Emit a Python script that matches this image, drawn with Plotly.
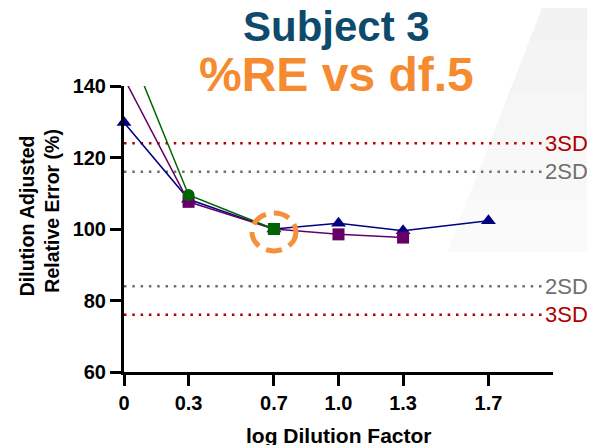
import plotly.graph_objects as go

# ---- data ----
log_df = [0, 0.301, 0.699, 1.0, 1.301, 1.699]
tick_labels = ["0", "0.3", "0.7", "1.0", "1.3", "1.7"]
blue_vals = [129.8, 108.3, 100.0, 101.6, 99.5, 102.3]
purple_vals = [142.2, 107.6, 100.0, 98.5, 97.6]
green_vals = [154.0, 109.5, 100.0]
green_symbols = ["circle", "circle", "square"]
sd_levels = [124, 116, 84, 76]
sd_labels = ["3SD", "2SD", "2SD", "3SD"]
sd_colors = ["#B00000", "#707070", "#707070", "#B00000"]
y_ticks = [60, 80, 100, 120, 140]
ref_x = 0.699
ref_y = 100

FONT = "Liberation Sans, Arial, sans-serif"

fig = go.Figure()

fig.add_trace(go.Scatter(
    x=log_df, y=blue_vals, mode="lines+markers",
    line=dict(color="#000080", width=1.5),
    marker=dict(symbol="triangle-up", size=13, color="#000080"),
    cliponaxis=False, showlegend=False))
fig.add_trace(go.Scatter(
    x=log_df[:len(purple_vals)], y=purple_vals, mode="lines+markers",
    line=dict(color="#660066", width=1.5),
    marker=dict(symbol="square", size=12, color="#660066"),
    cliponaxis=True, showlegend=False))
fig.add_trace(go.Scatter(
    x=log_df[:len(green_vals)], y=green_vals, mode="lines+markers",
    line=dict(color="#006400", width=1.5),
    marker=dict(symbol=green_symbols, size=12, color="#006400"),
    cliponaxis=True, showlegend=False))

shapes = []
# faint slanted background panel on the right (banded to mimic a soft gradient)
PX0, PY0, PW, PH = 124.3, 371.7, 428.4, 285.7   # plot area in window pixels


def px2paper(xp, yp):
    return (xp - PX0) / PW, (PY0 - yp) / PH


band_cols = ["#f2f2f2", "#f4f4f4", "#f6f6f6", "#f8f8f8", "#fafafa"]
nb = len(band_cols)
for i, col in enumerate(band_cols):
    ya = -10 + (252 + 10) * i / nb
    yb = -10 + (252 + 10) * (i + 1) / nb
    xa = 545 - (ya - 0) * (98 / 252)
    xb = 545 - (yb - 0) * (98 / 252)
    p1 = px2paper(xa, ya)
    p2 = px2paper(620, ya)
    p3 = px2paper(620, yb)
    p4 = px2paper(xb, yb)
    path = "M {:.4f} {:.4f} L {:.4f} {:.4f} L {:.4f} {:.4f} L {:.4f} {:.4f} Z".format(
        *p1, *p2, *p3, *p4)
    shapes.append(dict(type="path", xref="paper", yref="paper", path=path,
                       fillcolor=col, line=dict(width=0), layer="below"))

annotations = []
for lvl, lab, col in zip(sd_levels, sd_labels, sd_colors):
    shapes.append(dict(type="line", xref="x", yref="y", x0=0, x1=1.95, y0=lvl, y1=lvl,
                       line=dict(color=col, width=2.5, dash="2.5px,5.8px"), layer="below"))
    annotations.append(dict(x=1.955, y=lvl, xref="x", yref="y", text=lab, showarrow=False,
                            xanchor="left", yanchor="middle",
                            font=dict(family=FONT, size=22, color=col)))

shapes.append(dict(type="circle", xref="x", yref="y", xsizemode="pixel", ysizemode="pixel",
                   xanchor=ref_x, yanchor=ref_y, x0=-22, x1=22, y0=-22, y1=16,
                   line=dict(color="#F5913A", width=5, dash="16px,8px")))

annotations.append(dict(x=0.495, y=1.2065, xref="paper", yref="paper", text="<b>Subject 3</b>",
                        showarrow=False, xanchor="center", yanchor="middle",
                        font=dict(family=FONT, size=42, color="#0E4A6B")))
annotations.append(dict(x=0.495, y=1.0385, xref="paper", yref="paper", text="<b>%RE vs df.5</b>",
                        showarrow=False, xanchor="center", yanchor="middle",
                        font=dict(family=FONT, size=48, color="#F58A30")))
annotations.append(dict(x=-0.2271, y=0.5467, xref="paper", yref="paper",
                        text="<b>Dilution Adjusted</b>",
                        showarrow=False, textangle=-90, xanchor="center", yanchor="middle",
                        font=dict(family=FONT, size=19.5, color="black")))
annotations.append(dict(x=-0.1665, y=0.5625, xref="paper", yref="paper",
                        text="<b>Relative Error (%)</b>",
                        showarrow=False, textangle=-90, xanchor="center", yanchor="middle",
                        font=dict(family=FONT, size=19.5, color="black")))
annotations.append(dict(x=0.501, y=-0.2216, xref="paper", yref="paper",
                        text="<b>log Dilution Factor</b>",
                        showarrow=False, xanchor="center", yanchor="middle",
                        font=dict(family=FONT, size=21, color="black")))

fig.update_layout(
    width=587, height=437,
    margin=dict(l=116, r=42, t=78, b=73),
    paper_bgcolor="white", plot_bgcolor="rgba(0,0,0,0)",
    shapes=shapes, annotations=annotations,
    xaxis=dict(range=[0, 2.0], tickvals=log_df, ticktext=tick_labels,
               showgrid=False, zeroline=False, showline=True, linecolor="black", linewidth=3,
               ticks="outside", ticklen=11, tickwidth=3, tickcolor="black",
               tickfont=dict(family=FONT, size=20, color="black", weight="bold")),
    yaxis=dict(range=[60, 140], tickvals=y_ticks,
               showgrid=False, zeroline=False, showline=True, linecolor="black", linewidth=3,
               ticks="outside", ticklen=11, tickwidth=3, tickcolor="black",
               tickfont=dict(family=FONT, size=20, color="black", weight="bold")),
)

fig.write_html("out.html")
